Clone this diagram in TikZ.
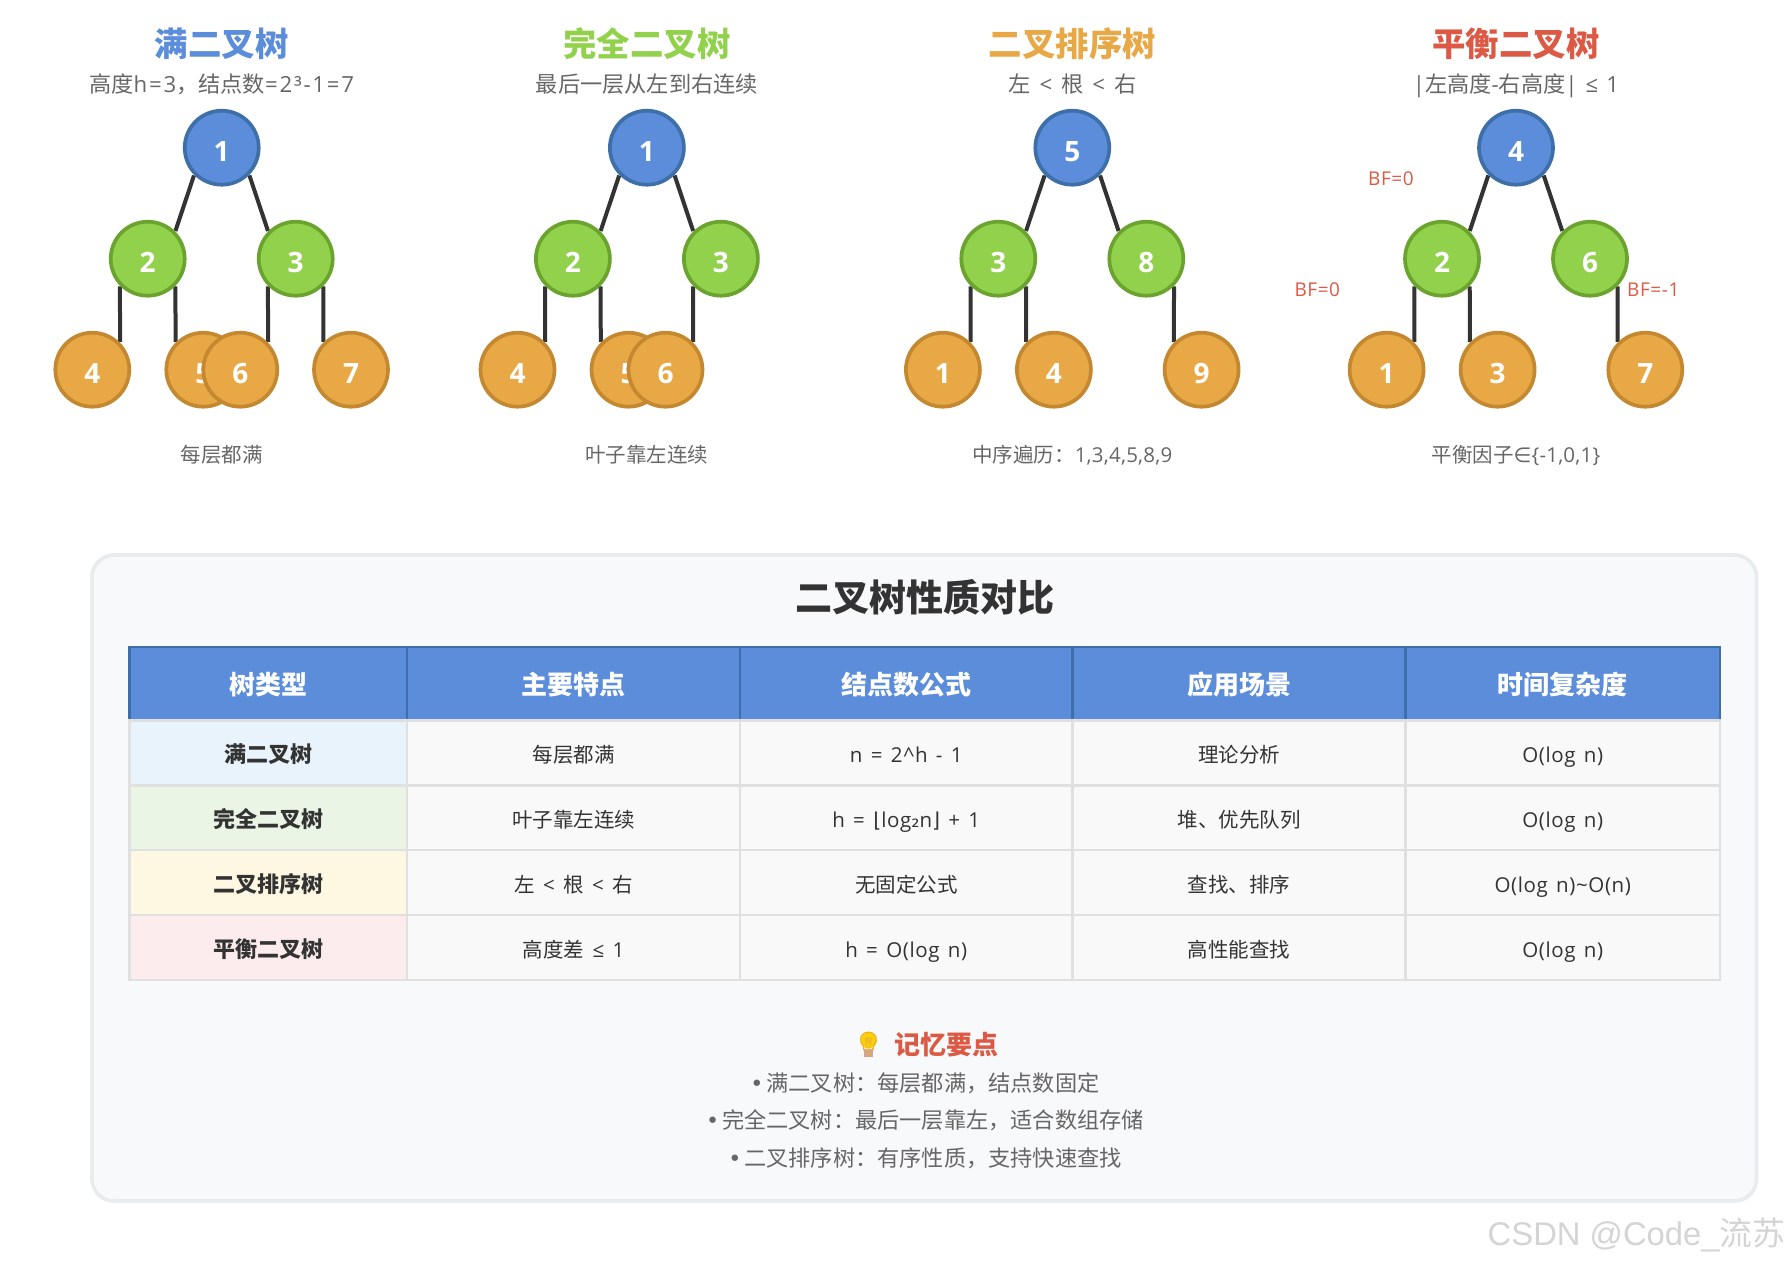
\documentclass[tikz,border=0pt]{standalone}
\usepackage{fontspec}
\setmainfont[LetterSpace=3,WordSpace=1.4]{Open Sans}
\newfontfamily\cjk{Noto Sans CJK SC}
\newfontfamily\symb{DejaVu Sans}
\newfontfamily\wmark{Liberation Sans}
\newfontfamily\emojifont{Noto Emoji}
\usetikzlibrary{backgrounds}

\definecolor{treeblue}{HTML}{5B8DDB}
\definecolor{treebluedark}{HTML}{3E6FA8}
\definecolor{treegreen}{HTML}{92D14B}
\definecolor{treegreendark}{HTML}{6BA32F}
\definecolor{treeorange}{HTML}{E8A845}
\definecolor{treeorangedark}{HTML}{C48830}
\definecolor{treered}{HTML}{DC5A45}
\definecolor{textgray}{HTML}{666666}
\definecolor{textdark}{HTML}{333333}
\definecolor{panelfill}{HTML}{F8F9FA}
\definecolor{paneledge}{HTML}{E9ECEF}
\definecolor{cellfill}{HTML}{F9F9F9}
\definecolor{celledge}{HTML}{E0E0E0}
\definecolor{rowblue}{HTML}{E8F3FC}
\definecolor{rowgreen}{HTML}{EAF5E6}
\definecolor{rowyellow}{HTML}{FEF7E2}
\definecolor{rowpink}{HTML}{FCECEE}

\tikzset{
  treenode/.style={circle, minimum size=37pt, inner sep=0pt, outer sep=1.1pt, line width=1.85pt, text=white,
    text height=14pt, text depth=0pt, font=\fontsize{14}{14}\selectfont\bfseries},
  rootnode/.style={treenode, draw=treebluedark, fill=treeblue},
  midnode/.style={treenode, draw=treegreendark, fill=treegreen},
  leafnode/.style={treenode, draw=treeorangedark, fill=treeorange},
  treeline/.style={draw=textdark, line width=2pt},
  treetitle/.style={font=\fontsize{16.7}{18}\selectfont\cjk\bfseries},
  subtitle/.style={text=textgray, text height=9.5pt, text depth=2.5pt, font=\fontsize{11.1}{13}\selectfont},
  caption/.style={text=textgray, text height=9pt, text depth=2pt, font=\fontsize{10.25}{12}\selectfont},
  bflabel/.style={text=treered, font=\fontsize{9.5}{11}\selectfont},
  headcell/.style={draw=treebluedark, fill=treeblue, line width=1.2pt, minimum height=36.8pt,
    anchor=north west, inner sep=0pt, outer sep=0pt, text=white, text height=12.5pt, text depth=2pt,
    font=\fontsize{13}{15}\selectfont\cjk\bfseries},
  bodycell/.style={draw=celledge, fill=cellfill, line width=1.2pt, minimum height=32.4pt,
    anchor=north west, inner sep=0pt, outer sep=0pt, text=textdark, text height=11.8pt, text depth=2pt,
    font=\fontsize{10.25}{12}\selectfont},
  namecell/.style={bodycell, font=\fontsize{11}{13}\selectfont\cjk\bfseries},
  notetext/.style={text=textgray, text height=9.5pt, text depth=2.5pt, font=\fontsize{11.1}{13}\selectfont},
}

\begin{document}
\begin{tikzpicture}[x=.5pt,y=-.5pt]
    \useasboundingbox (0,0) rectangle (1788,1264);

    % full tree
    \node[treetitle, text=treeblue] (fulltitle) at (221.7,44) {满二叉树};
    \node[subtitle] (fullsub) at (221.7,85.5) {\addfontfeature{LetterSpace=8}{\cjk 高度}h=3{\cjk ，结点数}=2³-1=7};
    \node[rootnode] (full1) at (221.7,147.7) {1};
    \node[midnode] (full2) at (147.7,258.7) {2};
    \node[midnode] (full3) at (295.7,258.7) {3};
    \node[leafnode] (full4) at (92.3,369.7) {4};
    \node[leafnode] (full5) at (203.3,369.7) {5};
    \node[leafnode] (full6) at (240.3,369.7) {6};
    \node[leafnode] (full7) at (351,369.7) {7};
    \node[caption] (fullcap) at (221.7,455) {\cjk 每层都满};

    % complete tree
    \node[treetitle, text=treegreen] (comptitle) at (646.9,44) {完全二叉树};
    \node[subtitle] (compsub) at (646.9,85.5) {\cjk 最后一层从左到右连续};
    \node[rootnode] (comp1) at (646.9,147.7) {1};
    \node[midnode] (comp2) at (572.9,258.7) {2};
    \node[midnode] (comp3) at (720.9,258.7) {3};
    \node[leafnode] (comp4) at (517.5,369.7) {4};
    \node[leafnode] (comp5) at (628.5,369.7) {5};
    \node[leafnode] (comp6) at (665.5,369.7) {6};
    \node[caption] (compcap) at (646.9,455) {\cjk 叶子靠左连续};

    % sorted tree
    \node[treetitle, text=treeorange] (sorttitle) at (1072.3,44) {二叉排序树};
    \node[subtitle] (sortsub) at (1072.3,85.5) {{\cjk 左} < {\cjk 根} < {\cjk 右}};
    \node[rootnode] (sort5) at (1072.3,147.7) {5};
    \node[midnode] (sort3) at (998.3,258.7) {3};
    \node[midnode] (sort8) at (1146.3,258.7) {8};
    \node[leafnode] (sort1) at (942.9,369.7) {1};
    \node[leafnode] (sort4) at (1053.9,369.7) {4};
    \node[leafnode] (sort9) at (1201.6,369.7) {9};
    \node[caption] (sortcap) at (1072.3,455) {\addfontfeature{LetterSpace=1}{\cjk 中序遍历：}1,3,4,5,8,9};

    % balanced tree
    \node[treetitle, text=treered] (baltitle) at (1516,44) {平衡二叉树};
    \node[subtitle] (balsub) at (1516,85.5) {\addfontfeature{LetterSpace=0}|{\cjk 左高度}-{\cjk 右高度}| ≤ 1};
    \node[rootnode] (bal4) at (1516,147.7) {4};
    \node[midnode] (bal2) at (1442,258.7) {2};
    \node[midnode] (bal6) at (1590,258.7) {6};
    \node[leafnode] (bal1) at (1386.6,369.7) {1};
    \node[leafnode] (bal3) at (1497.6,369.7) {3};
    \node[leafnode] (bal7) at (1645.3,369.7) {7};
    \node[caption] (balcap) at (1516,455) {\addfontfeature{LetterSpace=1}{\cjk 平衡因子}{\symb ∈}\{-1,0,1\}};
    \node[bflabel] (bfroot) at (1391,178.5) {BF=0};
    \node[bflabel] (bfleft) at (1317.3,289.5) {BF=0};
    \node[bflabel] (bfright) at (1653.3,289.5) {BF=-1};

    \begin{pgfonlayer}{background}
        \draw[treeline] (full1.225) -- (full2.45);
        \draw[treeline] (full1.315) -- (full3.135);
        \draw[treeline] (full2.225) -- (full4.45);
        \draw[treeline] (full2.315) -- (full5.135);
        \draw[treeline] (full3.225) -- (full6.45);
        \draw[treeline] (full3.315) -- (full7.135);
        \draw[treeline] (comp1.225) -- (comp2.45);
        \draw[treeline] (comp1.315) -- (comp3.135);
        \draw[treeline] (comp2.225) -- (comp4.45);
        \draw[treeline] (comp2.315) -- (comp5.135);
        \draw[treeline] (comp3.225) -- (comp6.45);
        \draw[treeline] (sort5.225) -- (sort3.45);
        \draw[treeline] (sort5.315) -- (sort8.135);
        \draw[treeline] (sort3.225) -- (sort1.45);
        \draw[treeline] (sort3.315) -- (sort4.135);
        \draw[treeline] (sort8.315) -- (sort9.135);
        \draw[treeline] (bal4.225) -- (bal2.45);
        \draw[treeline] (bal4.315) -- (bal6.135);
        \draw[treeline] (bal2.225) -- (bal1.45);
        \draw[treeline] (bal2.315) -- (bal3.135);
        \draw[treeline] (bal6.315) -- (bal7.135);
    \end{pgfonlayer}

    % panel with the table
    \draw[draw=paneledge, fill=panelfill, line width=1.85pt, rounded corners=11pt]
        (92,555) rectangle (1756.5,1201);
    \node[text=textdark, font=\fontsize{18.5}{20}\selectfont\cjk\bfseries] (tabletitle) at (924.5,597.5) {二叉树性质对比};

    % header row
    \node[headcell, minimum width=138.75pt] (headtype) at (129.5,647) {树类型};
    \node[headcell, minimum width=166.5pt] (headfeat) at (407,647) {主要特点};
    \node[headcell, minimum width=166.25pt] (headform) at (740,647) {结点数公式};
    \node[headcell, minimum width=166.5pt] (headuse) at (1072.5,647) {应用场景};
    \node[headcell, minimum width=157.25pt] (headtime) at (1405.5,647) {时间复杂度};

    % body rows
    \node[namecell, fill=rowblue, minimum width=138.75pt] (fullname) at (129.5,720.6) {满二叉树};
    \node[bodycell, minimum width=166.5pt] (fullfeat) at (407,720.6) {\cjk 每层都满};
    \node[bodycell, minimum width=166.25pt] (fullform) at (740,720.6) {n = 2\textasciicircum h - 1};
    \node[bodycell, minimum width=166.5pt] (fulluse) at (1072.5,720.6) {\cjk 理论分析};
    \node[bodycell, minimum width=157.25pt] (fulltime) at (1405.5,720.6) {O(log n)};

    \node[namecell, fill=rowgreen, minimum width=138.75pt] (compname) at (129.5,785.4) {完全二叉树};
    \node[bodycell, minimum width=166.5pt] (compfeat) at (407,785.4) {\cjk 叶子靠左连续};
    \node[bodycell, minimum width=166.25pt] (compform) at (740,785.4) {h = {\symb ⌊}log{\symb ₂}n{\symb ⌋} + 1};
    \node[bodycell, minimum width=166.5pt] (compuse) at (1072.5,785.4) {\cjk 堆、优先队列};
    \node[bodycell, minimum width=157.25pt] (comptime) at (1405.5,785.4) {O(log n)};

    \node[namecell, fill=rowyellow, minimum width=138.75pt] (sortname) at (129.5,850.2) {二叉排序树};
    \node[bodycell, minimum width=166.5pt] (sortfeat) at (407,850.2) {{\cjk 左} < {\cjk 根} < {\cjk 右}};
    \node[bodycell, minimum width=166.25pt] (sortform) at (740,850.2) {\cjk 无固定公式};
    \node[bodycell, minimum width=166.5pt] (sortuse) at (1072.5,850.2) {\cjk 查找、排序};
    \node[bodycell, minimum width=157.25pt] (sorttime) at (1405.5,850.2) {O(log n)\textasciitilde O(n)};

    \node[namecell, fill=rowpink, minimum width=138.75pt] (balname) at (129.5,915) {平衡二叉树};
    \node[bodycell, minimum width=166.5pt] (balfeat) at (407,915) {{\cjk 高度差} ≤ 1};
    \node[bodycell, minimum width=166.25pt] (balform) at (740,915) {h = O(log n)};
    \node[bodycell, minimum width=166.5pt] (baluse) at (1072.5,915) {\cjk 高性能查找};
    \node[bodycell, minimum width=157.25pt] (baltime) at (1405.5,915) {O(log n)};

    % notes
    \fill[yellow!70!orange] (868.5,1040) circle (8.5);
    \fill[black!45!violet!35!white] (864,1050) rectangle (873,1057);
    \node[text=treeorange, font=\fontsize{12.5}{14}\selectfont\emojifont] (bulb) at (868.5,1045) {💡};
    \node[text=treered, font=\fontsize{13}{14}\selectfont\cjk\bfseries] (notetitle) at (946,1045) {记忆要点};
    \node[notetext] (noteone) at (925,1084) {{\symb •}\hspace{1.5pt}{\cjk 满二叉树：每层都满，结点数固定}};
    \node[notetext] (notetwo) at (925,1121.5) {{\symb •}\hspace{1.5pt}{\cjk 完全二叉树：最后一层靠左，适合数组存储}};
    \node[notetext] (notethree) at (925,1159) {{\symb •}\hspace{1.5pt}{\cjk 二叉排序树：有序性质，支持快速查找}};

    \node[text=black!17, font=\fontsize{16.4}{19}\selectfont\wmark] (watermark) at (1636.5,1235) {CSDN @Code\_{\cjk 流苏}};
\end{tikzpicture}
\end{document}
